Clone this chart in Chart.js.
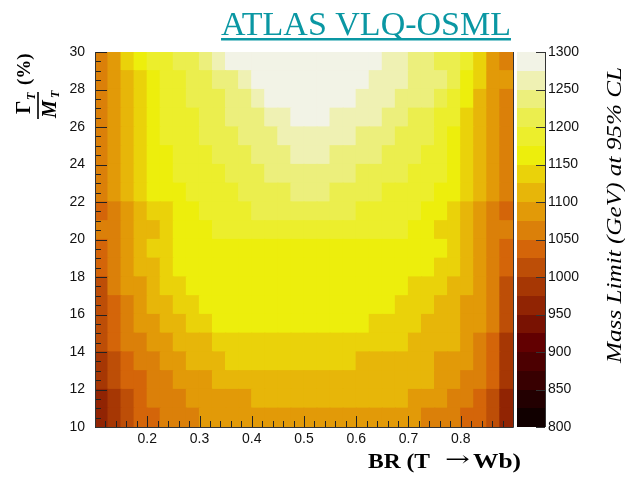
<!DOCTYPE html>
<html>
<head>
<meta charset="utf-8">
<title>ATLAS VLQ-OSML mass limit</title>
<script src="https://cdn.jsdelivr.net/npm/chart.js@4.4.1/dist/chart.umd.min.js"></script>
<style>
  html, body { margin: 0; padding: 0; background: #fff; }
  canvas { display: block; }
</style>
</head>
<body>
<canvas id="limitChart" width="625" height="477"></canvas>
<script>
// BR(T -> Wb) bin lower edges (bin width 0.025)
const brBins = [0.1, 0.125, 0.15, 0.175, 0.2, 0.225, 0.25, 0.275, 0.3, 0.325, 0.35, 0.375, 0.4, 0.425, 0.45, 0.475,
                0.5, 0.525, 0.55, 0.575, 0.6, 0.625, 0.65, 0.675, 0.7, 0.725, 0.75, 0.775, 0.8, 0.825, 0.85, 0.875];
// Gamma_T / M_T (%) bin lower edges (bin width 1)
const widthBins = [10, 11, 12, 13, 14, 15, 16, 17, 18, 19, 20, 21, 22, 23, 24, 25, 26, 27, 28, 29];

// mass limit (GeV) per width row, one value per BR bin
const gm10 = [962,987,1012,1037,1037,1062,1062,1062, 1087,1087,1087,1087,1087,1087,1087,1087, 1087,1087,1087,1087,1087,1087,1087,1087, 1087,1062,1062,1062,1037,1037,1012,962];
const gm11 = [962,987,1012,1037,1062,1062,1062,1087, 1087,1087,1087,1087,1112,1112,1112,1112, 1112,1112,1112,1112,1112,1112,1112,1112, 1087,1087,1087,1062,1062,1037,1012,962];
const gm12 = [987,1012,1037,1037,1062,1062,1087,1087, 1087,1112,1112,1112,1112,1112,1112,1112, 1112,1112,1112,1112,1112,1112,1112,1112, 1112,1112,1087,1087,1062,1062,1037,987];
const gm13 = [987,1012,1037,1062,1062,1087,1087,1112, 1112,1112,1137,1137,1137,1137,1137,1137, 1137,1137,1137,1137,1112,1112,1112,1112, 1112,1112,1087,1087,1087,1062,1037,987];
const gm14 = [1012,1037,1062,1062,1087,1087,1112,1112, 1112,1137,1137,1137,1137,1137,1137,1137, 1137,1137,1137,1137,1137,1137,1137,1137, 1112,1112,1112,1112,1087,1062,1037,987];
const gm15 = [1012,1037,1062,1087,1087,1112,1112,1137, 1137,1162,1162,1162,1162,1162,1162,1162, 1162,1162,1162,1162,1162,1137,1137,1137, 1137,1112,1112,1112,1087,1087,1062,1012];
const gm16 = [1012,1037,1062,1087,1112,1112,1137,1137, 1162,1162,1162,1162,1162,1162,1162,1162, 1162,1162,1162,1162,1162,1162,1162,1137, 1137,1137,1112,1112,1087,1087,1062,1012];
const gm17 = [1012,1062,1087,1087,1112,1137,1137,1162, 1162,1162,1162,1162,1162,1162,1162,1162, 1162,1162,1162,1162,1162,1162,1162,1162, 1137,1137,1137,1112,1112,1087,1062,1012];
const gm18 = [1037,1062,1087,1112,1112,1137,1162,1162, 1162,1162,1162,1162,1162,1162,1162,1162, 1162,1162,1162,1162,1162,1162,1162,1162, 1162,1162,1137,1137,1112,1087,1062,1037];
const gm19 = [1037,1062,1087,1112,1137,1137,1162,1162, 1162,1162,1162,1162,1162,1162,1162,1162, 1162,1162,1162,1162,1162,1162,1162,1162, 1162,1162,1162,1137,1112,1087,1062,1037];
const gm20 = [1062,1062,1087,1112,1112,1137,1162,1162, 1162,1187,1187,1187,1187,1187,1187,1187, 1187,1187,1187,1187,1187,1187,1187,1187, 1162,1162,1137,1137,1112,1087,1062,1062];
const gm21 = [1037,1062,1087,1112,1137,1137,1162,1162, 1187,1187,1187,1187,1212,1212,1212,1212, 1212,1212,1212,1212,1187,1187,1187,1187, 1187,1162,1162,1137,1112,1087,1062,1037];
const gm22 = [1062,1087,1112,1137,1162,1162,1162,1187, 1187,1187,1187,1212,1212,1212,1212,1237, 1237,1237,1212,1212,1212,1212,1187,1187, 1187,1187,1162,1162,1137,1112,1087,1062];
const gm23 = [1062,1087,1112,1137,1162,1162,1187,1187, 1187,1187,1212,1212,1212,1237,1237,1237, 1237,1237,1237,1237,1212,1212,1212,1212, 1187,1187,1187,1162,1137,1112,1087,1062];
const gm24 = [1062,1087,1112,1137,1162,1162,1187,1187, 1187,1212,1212,1212,1237,1237,1237,1262, 1262,1262,1237,1237,1237,1237,1212,1212, 1212,1187,1187,1162,1137,1112,1087,1062];
const gm25 = [1062,1087,1112,1137,1162,1187,1187,1187, 1212,1212,1212,1237,1237,1237,1262,1262, 1262,1262,1262,1262,1237,1237,1237,1212, 1212,1212,1187,1162,1137,1112,1087,1062];
const gm26 = [1062,1087,1112,1137,1162,1187,1187,1187, 1212,1212,1237,1237,1237,1262,1262,1287, 1287,1287,1262,1262,1262,1262,1237,1237, 1212,1212,1187,1187,1137,1112,1087,1062];
const gm27 = [1062,1087,1112,1137,1162,1187,1187,1212, 1212,1212,1237,1237,1262,1287,1287,1287, 1287,1287,1287,1287,1262,1262,1262,1237, 1237,1237,1212,1187,1162,1112,1087,1062];
const gm28 = [1062,1087,1112,1137,1162,1187,1187,1212, 1212,1237,1237,1262,1287,1287,1287,1287, 1287,1287,1287,1287,1287,1262,1262,1262, 1237,1237,1237,1212,1162,1137,1087,1087];
const gm29 = [1062,1087,1137,1162,1187,1187,1212,1212, 1237,1262,1287,1287,1287,1287,1287,1287, 1287,1287,1287,1287,1287,1287,1262,1262, 1237,1237,1212,1212,1187,1137,1087,1062];
const limitRows = [gm10, gm11, gm12, gm13, gm14, gm15, gm16, gm17, gm18, gm19,
                   gm20, gm21, gm22, gm23, gm24, gm25, gm26, gm27, gm28, gm29];

// colour scale
const contourLevels = [800, 825, 850, 875, 900, 925, 950, 975, 1000, 1025, 1050,
                       1075, 1100, 1125, 1150, 1175, 1200, 1225, 1250, 1275, 1300];
const massTicks = [800, 850, 900, 950, 1000, 1050, 1100, 1150, 1200, 1250, 1300];

// axis ticks
const brTicks = [0.2, 0.3, 0.4, 0.5, 0.6, 0.7, 0.8];
const brTickLabels = ['0.2', '0.3', '0.4', '0.5', '0.6', '0.7', '0.8'];
const widthTicks = [10, 12, 14, 16, 18, 20, 22, 24, 26, 28, 30];

const pageTitle = 'ATLAS VLQ-OSML';
const zTitle = 'Mass Limit (GeV) at 95% CL';

// ROOT "dark body radiator" palette
const palStops = [0, 0.125, 0.25, 0.375, 0.5, 0.625, 0.75, 0.875, 1];
const palRed   = [0, 45, 99, 156, 212, 230, 237, 234, 242];
const palGreen = [0, 0, 0, 45, 101, 168, 238, 238, 243];
const palBlue  = [0, 1, 1, 3, 9, 8, 11, 95, 230];

function paletteColor(t) {
  let k = 0;
  while (k < palStops.length - 2 && t > palStops[k + 1]) k++;
  const f = (t - palStops[k]) / (palStops[k + 1] - palStops[k]);
  const mix = arr => Math.round(arr[k] + (arr[k + 1] - arr[k]) * f);
  return `rgb(${mix(palRed)},${mix(palGreen)},${mix(palBlue)})`;
}

function levelColor(v) {
  const n = contourLevels.length - 1;
  let i = 0;
  while (i < n - 1 && v >= contourLevels[i + 1]) i++;
  const idx = Math.floor((i + 0.99) * 255 / n);
  return paletteColor(idx / 254);
}

const binWidth = brBins[1] - brBins[0];

const datasets = widthBins.map((w, r) => ({
  label: 'width ' + w,
  xAxisID: 'x',
  yAxisID: 'y',
  data: brBins.map(b => ({ x: b + binWidth / 2, y: [w, w + 1] })),
  backgroundColor: limitRows[r].map(levelColor),
  borderWidth: 0,
  grouped: false,
  barPercentage: 1,
  categoryPercentage: 1,
  inflateAmount: 0.6
}));

// inward ticks and frame like the ROOT canvas
const frameTicks = {
  id: 'frameTicks',
  afterDatasetsDraw(chart) {
    const { ctx, chartArea: a, scales: { x, y } } = chart;
    ctx.save();
    ctx.strokeStyle = '#222';
    ctx.lineWidth = 1;
    ctx.beginPath();
    for (let k = 0; k <= 40; k++) {
      const v = 10 + k * 0.5;
      const py = Math.round(y.getPixelForValue(v)) + 0.5;
      const len = k % 4 === 0 ? 12 : 6;
      ctx.moveTo(a.left, py);
      ctx.lineTo(a.left + len, py);
    }
    for (let k = 0; k <= 40; k++) {
      const v = 0.1 + k * 0.02;
      const px = Math.round(x.getPixelForValue(v)) + 0.5;
      const len = k % 5 === 0 ? 11 : 6;
      ctx.moveTo(px, a.bottom);
      ctx.lineTo(px, a.bottom - len);
    }
    ctx.stroke();

    ctx.strokeStyle = '#333';
    ctx.beginPath();
    ctx.moveTo(a.left + 0.5, a.top);
    ctx.lineTo(a.left + 0.5, a.bottom + 0.5);
    ctx.lineTo(a.right + 0.5, a.bottom + 0.5);
    ctx.lineTo(a.right + 0.5, a.top);
    ctx.stroke();
    ctx.restore();
  }
};

const colorBar = {
  id: 'colorBar',
  afterDraw(chart) {
    const { ctx, chartArea: a, scales: { cb } } = chart;
    const left = a.right + 4;
    const width = 28;
    ctx.save();
    for (let i = 0; i < contourLevels.length - 1; i++) {
      const top = Math.round(cb.getPixelForValue(contourLevels[i + 1]));
      const bottom = Math.round(cb.getPixelForValue(contourLevels[i]));
      ctx.fillStyle = levelColor(contourLevels[i]);
      ctx.fillRect(left, top, width, bottom - top);
    }
    ctx.strokeStyle = '#333';
    ctx.lineWidth = 1;
    ctx.beginPath();
    massTicks.forEach(v => {
      const py = Math.round(cb.getPixelForValue(v)) + 0.5;
      ctx.moveTo(left + width, py);
      ctx.lineTo(left + width - 9, py);
    });
    ctx.moveTo(left + width + 0.5, a.top);
    ctx.lineTo(left + width + 0.5, a.bottom);
    ctx.stroke();
    ctx.restore();
  }
};

function stretchedText(ctx, text, x, y, targetWidth) {
  const w = ctx.measureText(text).width;
  ctx.save();
  ctx.translate(x, y);
  ctx.scale(targetWidth / w, 1);
  ctx.fillText(text, 0, 0);
  ctx.restore();
}

const textLabels = {
  id: 'textLabels',
  afterDraw(chart) {
    const { ctx } = chart;
    ctx.save();
    ctx.textBaseline = 'alphabetic';

    // header
    ctx.font = '34px "Liberation Serif", serif';
    ctx.fillStyle = '#0a97a3';
    ctx.textAlign = 'center';
    ctx.fillText(pageTitle, 366, 35);
    const tw = ctx.measureText(pageTitle).width;
    ctx.fillRect(366 - tw / 2, 38, tw, 2.5);

    // x title: BR (T -> Wb)
    ctx.fillStyle = '#000';
    ctx.textAlign = 'left';
    ctx.font = 'bold 21px "Liberation Serif", serif';
    stretchedText(ctx, 'BR (T', 368, 468, 62);
    stretchedText(ctx, 'Wb)', 473, 468, 48);
    ctx.font = '21px "DejaVu Serif", serif';
    stretchedText(ctx, '\u2192', 445, 466, 25);

    // y title: Gamma_T / M_T (%)
    ctx.save();
    ctx.translate(38, 119);
    ctx.rotate(-Math.PI / 2);
    ctx.fillRect(0, -0.8, 27, 1.6);
    ctx.font = 'bold 21px "Liberation Serif", serif';
    ctx.fillText('\u0393', 5, -8);
    ctx.font = 'bold italic 12px "Liberation Serif", serif';
    ctx.fillText('T', 19, -3);
    ctx.font = 'bold italic 20px "Liberation Serif", serif';
    ctx.fillText('M', 1, 18);
    ctx.font = 'bold italic 12px "Liberation Serif", serif';
    ctx.fillText('T', 21, 21);
    ctx.font = 'bold 19px "Liberation Serif", serif';
    ctx.fillText('(%)', 34, -8);
    ctx.restore();

    // colour bar title
    ctx.save();
    ctx.translate(621, 363);
    ctx.rotate(-Math.PI / 2);
    ctx.font = 'italic 21px "Liberation Serif", serif';
    stretchedText(ctx, zTitle, 0, 0, 296);
    ctx.restore();

    ctx.restore();
  }
};

const tickFont = { family: '"Liberation Sans", Arial, sans-serif', size: 14 };

new Chart(document.getElementById('limitChart'), {
  type: 'bar',
  data: { datasets },
  options: {
    responsive: false,
    animation: false,
    layout: { padding: { top: 52, left: 0, right: 0, bottom: 0 } },
    plugins: { legend: { display: false }, tooltip: { enabled: false } },
    scales: {
      x: {
        type: 'linear',
        min: 0.1,
        max: 0.9,
        offset: false,
        grid: { display: false, drawTicks: false, offset: false },
        border: { display: false },
        afterBuildTicks: s => { s.ticks = brTicks.map(value => ({ value })); },
        ticks: {
          color: '#111',
          font: tickFont,
          padding: 4,
          maxRotation: 0,
          autoSkip: false,
          callback: (value, i) => brTickLabels[i]
        },
        afterFit: s => { s.height = 50; }
      },
      y: {
        type: 'linear',
        min: 10,
        max: 30,
        grid: { display: false, drawTicks: false },
        border: { display: false },
        afterBuildTicks: s => { s.ticks = widthTicks.map(value => ({ value })); },
        ticks: {
          color: '#111',
          font: tickFont,
          padding: 10,
          autoSkip: false,
          callback: value => String(value)
        },
        afterFit: s => { s.width = 95; }
      },
      cb: {
        type: 'linear',
        position: 'right',
        min: 800,
        max: 1300,
        grid: { display: false, drawTicks: false },
        border: { display: false },
        afterBuildTicks: s => { s.ticks = massTicks.map(value => ({ value })); },
        ticks: {
          color: '#111',
          font: tickFont,
          padding: 35,
          autoSkip: false,
          callback: value => String(value)
        },
        afterFit: s => { s.width = 112; }
      }
    }
  },
  plugins: [frameTicks, colorBar, textLabels]
});
</script>
</body>
</html>
